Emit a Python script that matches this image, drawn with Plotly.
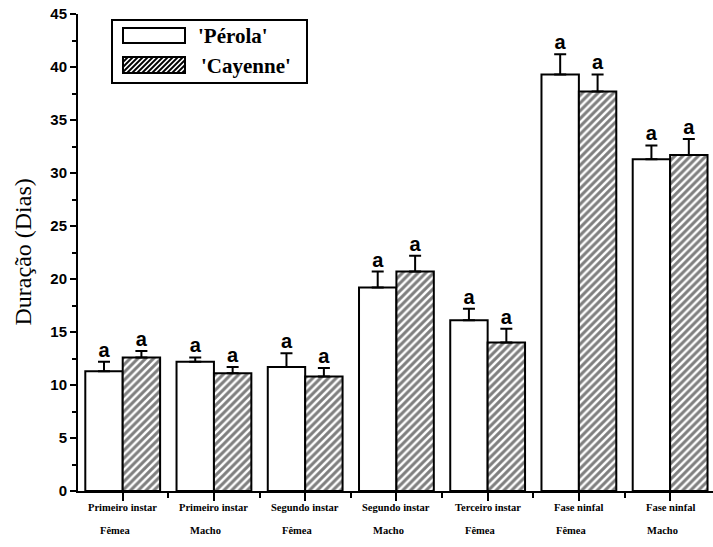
import plotly.graph_objects as go

categories_l1 = ["Primeiro instar", "Primeiro instar", "Segundo instar", "Segundo instar",
                 "Terceiro instar", "Fase ninfal", "Fase ninfal"]
categories_l2 = ["Fêmea", "Macho", "Fêmea", "Macho", "Fêmea", "Fêmea", "Macho"]
perola = [11.3, 12.2, 11.7, 19.2, 16.1, 39.3, 31.3]
perola_err = [0.9, 0.4, 1.3, 1.5, 1.1, 1.9, 1.3]
cayenne = [12.6, 11.1, 10.8, 20.7, 14.0, 37.7, 31.7]
cayenne_err = [0.6, 0.6, 0.8, 1.5, 1.3, 1.6, 1.5]
letters_p = ["a"] * 7
letters_c = ["a"] * 7
y_ticks = [0, 5, 10, 15, 20, 25, 30, 35, 40, 45]

n = len(categories_l1)
xs = list(range(n))
BW = 0.41

fig = go.Figure()
fig.add_trace(go.Bar(
    x=xs, y=perola, name="'Pérola'",
    marker=dict(color="white", line=dict(color="black", width=2)),
    error_y=dict(type="data", array=perola_err, arrayminus=[0] * n, symmetric=False,
                 color="black", thickness=2, width=6),
))
fig.add_trace(go.Bar(
    x=xs, y=cayenne, name="'Cayenne'",
    marker=dict(color="white", line=dict(color="black", width=2),
                pattern=dict(shape="/", fgcolor="black", bgcolor="white", size=5.5, solidity=0.55)),
    error_y=dict(type="data", array=cayenne_err, arrayminus=[0] * n, symmetric=False,
                 color="black", thickness=2, width=6),
))
fig.add_trace(go.Scatter(
    x=[i - BW / 2 for i in xs], y=[v + e for v, e in zip(perola, perola_err)],
    mode="text", text=letters_p, textposition="top center",
    textfont=dict(family="Liberation Sans", size=20, color="black", weight="bold"),
    showlegend=False, hoverinfo="skip", cliponaxis=False,
))
fig.add_trace(go.Scatter(
    x=[i + BW / 2 for i in xs], y=[v + e for v, e in zip(cayenne, cayenne_err)],
    mode="text", text=letters_c, textposition="top center",
    textfont=dict(family="Liberation Sans", size=20, color="black", weight="bold"),
    showlegend=False, hoverinfo="skip", cliponaxis=False,
))

L, T, W, H = 78, 14, 635, 477


def px(x):
    return (x - L) / W


def py(y):
    return (T + H - y) / H


shapes = []
shapes.append(dict(type="rect", xref="paper", yref="paper", x0=px(112), x1=px(307), y0=py(20), y1=py(83),
                   line=dict(color="black", width=2), fillcolor="white", layer="above"))
shapes.append(dict(type="rect", xref="paper", yref="paper", x0=px(123), x1=px(185), y0=py(28), y1=py(43),
                   line=dict(color="black", width=2), fillcolor="white", layer="above"))
sx0, sx1, sy0, sy1 = 123, 185, 57, 73
path = []
h = sy1 - sy0
k = sx0 - h
while k < sx1:
    ax, ay, bx, by = k, sy1, k + h, sy0
    if ax < sx0:
        ay = sy1 - (sx0 - ax)
        ax = sx0
    if bx > sx1:
        by = sy0 + (bx - sx1)
        bx = sx1
    path.append(f"M{px(ax)},{py(ay)} L{px(bx)},{py(by)}")
    k += 5
shapes.append(dict(type="rect", xref="paper", yref="paper", x0=px(sx0), x1=px(sx1), y0=py(sy0), y1=py(sy1),
                   line=dict(color="black", width=2), fillcolor="white", layer="above"))
shapes.append(dict(type="path", xref="paper", yref="paper", path=" ".join(path),
                   line=dict(color="black", width=1.8), layer="above"))

annotations = [
    dict(xref="paper", yref="paper", x=px(196), y=py(36), text="'Pérola'", showarrow=False,
         xanchor="left", yanchor="middle", font=dict(family="Liberation Serif", size=21, color="black", weight="bold")),
    dict(xref="paper", yref="paper", x=px(199), y=py(66), text="'Cayenne'", showarrow=False,
         xanchor="left", yanchor="middle", font=dict(family="Liberation Serif", size=21, color="black", weight="bold")),
    dict(xref="paper", yref="paper", x=px(22), y=0.5, text="Duração (Dias)", showarrow=False, textangle=-90,
         xanchor="center", yanchor="middle", font=dict(family="Liberation Serif", size=24, color="black")),
]
for i in xs:
    annotations.append(dict(xref="x", yref="paper", x=i, y=0, yshift=-16, text=categories_l1[i],
                            showarrow=False, xanchor="center", yanchor="middle",
                            font=dict(family="Liberation Serif", size=10.5, color="black", weight="bold")))
    annotations.append(dict(xref="x", yref="paper", x=i, y=0, yshift=-39, xshift=-8, text=categories_l2[i],
                            showarrow=False, xanchor="center", yanchor="middle",
                            font=dict(family="Liberation Serif", size=10.5, color="black", weight="bold")))

fig.update_layout(
    width=713, height=547,
    margin=dict(l=L, r=713 - L - W, t=T, b=547 - T - H, pad=0, autoexpand=False),
    paper_bgcolor="white", plot_bgcolor="white",
    barmode="group", bargap=0.18, bargroupgap=0,
    showlegend=False,
    shapes=shapes, annotations=annotations,
    xaxis=dict(range=[-0.49, 6.47], tickmode="array", tickvals=xs, ticktext=[""] * n, automargin=False,
               showgrid=False, zeroline=False, showline=True, linecolor="black", linewidth=2,
               ticks="outside", ticklen=8, tickwidth=2, tickcolor="black",
               minor=dict(tickmode="linear", tick0=0.5, dtick=1, ticks="outside", ticklen=5,
                          tickwidth=2, tickcolor="black")),
    yaxis=dict(range=[0, 45], tickvals=y_ticks, showgrid=False, zeroline=False, automargin=False,
               showline=True, linecolor="black", linewidth=2,
               ticks="outside", ticklen=6, tickwidth=2, tickcolor="black",
               tickfont=dict(family="Liberation Sans", size=15, color="black", weight="bold"),
               minor=dict(tickmode="linear", tick0=0, dtick=2.5, ticks="outside", ticklen=4,
                          tickwidth=1.5, tickcolor="black")),
)

fig.write_html("out.html", config={"displayModeBar": False},
               post_script="document.body.style.margin='0';document.body.style.overflow='hidden';")
